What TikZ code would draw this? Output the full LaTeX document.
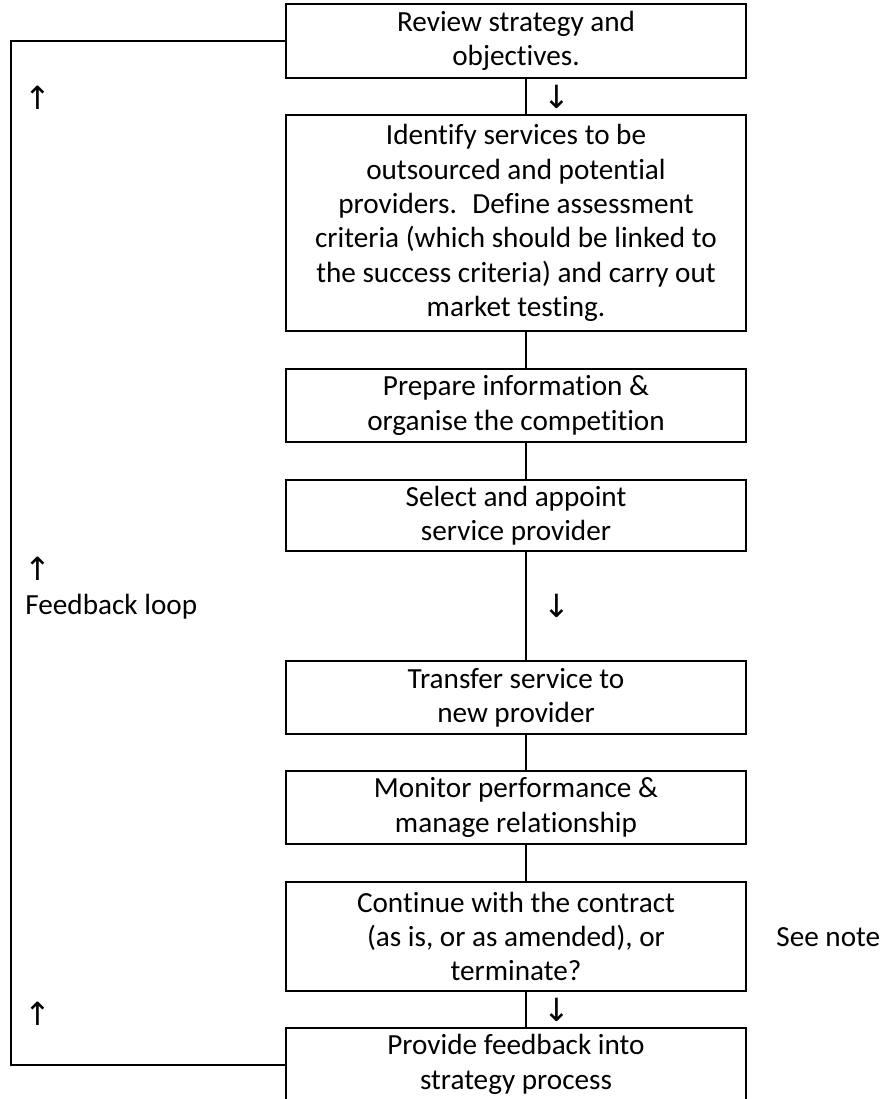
\documentclass[tikz,border=0pt]{standalone}
\usepackage{fontspec}
\setmainfont[Ligatures=NoCommon]{Carlito}
\newfontfamily\arrowfont{DejaVu Sans}
\begin{document}
\begin{tikzpicture}[x=0.5pt,y=-0.5pt,
  stepbox/.style={draw, line width=1pt, minimum width=230pt, inner sep=0pt, align=center, font=\fontsize{14.6}{17.2}\selectfont},
  conn/.style={line width=1pt},
  lbl/.style={inner sep=0pt, font=\fontsize{14.6}{17.2}\selectfont},
  arr/.style={inner sep=0pt, font=\arrowfont\fontsize{16}{18}\selectfont}]
\useasboundingbox (0,0) rectangle (888,1099);
\node[stepbox, minimum height=37pt] (b1) at (516,41) {Review strategy and\\objectives.};
\node[stepbox, minimum height=108pt] (b2) at (516,223) {Identify services to be\\outsourced and potential\\providers.~ Define assessment\\criteria (which should be linked to\\the success criteria) and carry out\\market testing.};
\node[stepbox, minimum height=36.5pt] (b3) at (516,405.5) {Prepare information \&\\organise the competition};
\node[stepbox, minimum height=35.5pt] (b4) at (516,515.5) {Select and appoint\\service provider};
\node[stepbox, minimum height=36.5pt] (b5) at (516,697.5) {Transfer service to\\new provider};
\node[stepbox, minimum height=36.5pt] (b6) at (516,807.5) {Monitor performance \&\\manage relationship};
\node[stepbox, minimum height=54.5pt] (b7) at (516,936.5) {Continue with the contract\\(as is, or as amended), or\\terminate?};
\node[stepbox, minimum height=36.5pt] (b8) at (516,1064.5) {Provide feedback into\\strategy process};

\foreach \a/\b in {b1/b2,b2/b3,b3/b4,b4/b5,b5/b6,b6/b7,b7/b8}
  \draw[conn] ([xshift=5pt]\a.south) -- ([xshift=5pt]\b.north);

\coordinate (fl) at (11,41);
\draw[conn] (b1.west) -- (fl) |- (b8.west);

\node[arr] (d1) at (557,96.5) {↓};
\node[arr] (d2) at (557,606) {↓};
\node[arr] (d3) at (557,1009.5) {↓};
\node[arr] (u1) at (38,98) {↑};
\node[arr] (u2) at (38,569) {↑};
\node[arr] (u3) at (38,1014) {↑};

\node[lbl, anchor=west] (fb) at (25,607) {Feedback loop};
\node[lbl, anchor=west] (note) at (776,937) {See note};
\end{tikzpicture}
\end{document}
